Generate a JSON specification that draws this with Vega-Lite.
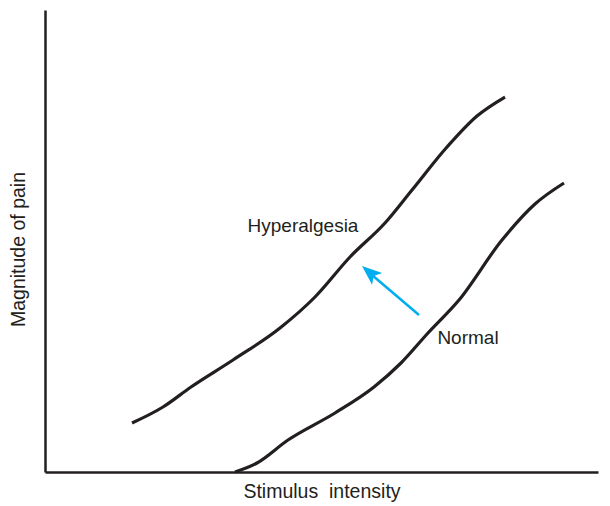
{
  "$schema": "https://vega.github.io/schema/vega-lite/v6.json",
  "width": 553,
  "height": 462,
  "autosize": {"type": "none"},
  "padding": {"left": 45, "top": 10, "right": 12, "bottom": 34},
  "config": {"view": {"stroke": null}, "font": "Liberation Sans"},
  "datasets": {
    "curves": [
      {"series": "Hyperalgesia", "x": 87, "y": 49},
      {"series": "Hyperalgesia", "x": 118, "y": 65},
      {"series": "Hyperalgesia", "x": 146, "y": 85},
      {"series": "Hyperalgesia", "x": 188, "y": 112},
      {"series": "Hyperalgesia", "x": 235, "y": 144},
      {"series": "Hyperalgesia", "x": 270, "y": 175},
      {"series": "Hyperalgesia", "x": 305, "y": 215},
      {"series": "Hyperalgesia", "x": 340, "y": 249},
      {"series": "Hyperalgesia", "x": 367, "y": 282},
      {"series": "Hyperalgesia", "x": 402, "y": 325},
      {"series": "Hyperalgesia", "x": 432, "y": 356},
      {"series": "Hyperalgesia", "x": 460, "y": 375},
      {"series": "Normal", "x": 190, "y": 0},
      {"series": "Normal", "x": 212, "y": 9},
      {"series": "Normal", "x": 243, "y": 32},
      {"series": "Normal", "x": 290, "y": 59},
      {"series": "Normal", "x": 329, "y": 85},
      {"series": "Normal", "x": 356, "y": 109},
      {"series": "Normal", "x": 383, "y": 139},
      {"series": "Normal", "x": 414, "y": 172},
      {"series": "Normal", "x": 457, "y": 232},
      {"series": "Normal", "x": 490, "y": 268},
      {"series": "Normal", "x": 519, "y": 289}
    ],
    "arrow": [{"x": 374, "y": 157, "x2": 327, "y2": 197, "hx": 325.4, "hy": 198.8}],
    "labels": [
      {"label": "Hyperalgesia", "x": 258, "y": 246},
      {"label": "Normal", "x": 423, "y": 134}
    ]
  },
  "layer": [
    {
      "data": {"name": "curves"},
      "mark": {"type": "line", "interpolate": "monotone", "stroke": "#231f20", "strokeWidth": 3.2, "strokeCap": "butt"},
      "encoding": {
        "x": {"field": "x", "type": "quantitative", "scale": {"domain": [0, 553], "nice": false, "zero": false},
              "axis": {"title": "Stimulus\u00a0 intensity", "ticks": false, "labels": false, "grid": false,
                       "domainColor": "#231f20", "domainWidth": 2.5, "titleFontSize": 19.5, "titleFontWeight": "normal",
                       "titleColor": "#231f20", "titlePadding": 10}},
        "y": {"field": "y", "type": "quantitative", "scale": {"domain": [0, 462], "nice": false, "zero": false},
              "axis": {"title": "Magnitude of pain", "ticks": false, "labels": false, "grid": false,
                       "domainColor": "#231f20", "domainWidth": 2.5, "titleFontSize": 19.5, "titleFontWeight": "normal",
                       "titleColor": "#231f20", "titlePadding": 17, "titleY": 239}},
        "detail": {"field": "series"}
      }
    },
    {
      "data": {"name": "arrow"},
      "mark": {"type": "rule", "stroke": "#00aeef", "strokeWidth": 2.5},
      "encoding": {
        "x": {"field": "x", "type": "quantitative"},
        "y": {"field": "y", "type": "quantitative"},
        "x2": {"field": "x2"},
        "y2": {"field": "y2"}
      }
    },
    {
      "data": {"name": "arrow"},
      "mark": {"type": "point", "shape": "M0,-1 L0.7,0.8 L0,0.4 L-0.7,0.8 Z", "filled": true, "fill": "#00aeef", "opacity": 1, "strokeWidth": 0, "size": 490, "angle": 310.6},
      "encoding": {
        "x": {"field": "hx", "type": "quantitative"},
        "y": {"field": "hy", "type": "quantitative"}
      }
    },
    {
      "data": {"name": "labels"},
      "mark": {"type": "text", "fontSize": 19, "fill": "#231f20", "align": "center", "baseline": "middle"},
      "encoding": {
        "x": {"field": "x", "type": "quantitative"},
        "y": {"field": "y", "type": "quantitative"},
        "text": {"field": "label"}
      }
    }
  ]
}
